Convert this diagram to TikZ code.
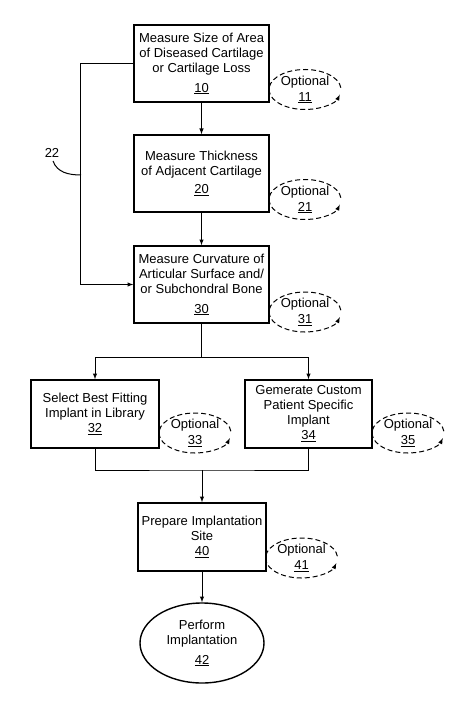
\documentclass[tikz,border=0pt]{standalone}
\usepackage{fontspec}
\setmainfont{Liberation Sans}
\usetikzlibrary{shapes.geometric}

\begin{document}
\begin{tikzpicture}[x=1pt, y=1pt, >=latex,
  every node/.style={font=\fontsize{13}{15}\selectfont, align=center},
  stepbox/.style={draw, rectangle, line width=1.4pt, inner sep=0pt},
  optnote/.style={inner sep=0pt},
  flow/.style={->, line width=1pt}]

\useasboundingbox (0,0) rectangle (474,-711);

% --- Measuring steps ---
\node (box10) [stepbox, minimum width=135, minimum height=77] at (201.5,-63.5) {Measure Size of Area\\of Diseased Cartilage\\or Cartilage Loss\\[5pt]\underline{10}};
\node (box20) [stepbox, minimum width=135, minimum height=77] at (201.5,-173.5) {Measure Thickness\\of Adjacent Cartilage\\[3pt]\underline{20}};
\node (box30) [stepbox, minimum width=135, minimum height=77] at (201.5,-284.5) {Measure Curvature of\\Articular Surface and/\\or Subchondral Bone\\[5pt]\underline{30}};

% --- Implant choice ---
\node (box32) [stepbox, minimum width=128, minimum height=68] at (95,-414) {Select Best Fitting\\Implant in Library\\\underline{32}};
\node (box34) [stepbox, minimum width=127, minimum height=68] at (308.5,-414) {Gemerate Custom\\Patient Specific\\Implant\\\underline{34}};

% --- Implantation ---
\node (box40) [stepbox, minimum width=128, minimum height=68] at (202,-537) {Prepare Implantation\\Site\\\underline{40}};
\node (end42) [draw, ellipse, line width=1.4pt, inner sep=0pt, minimum width=124, minimum height=80] at (202,-643) {Perform\\Implantation\\[5pt]\underline{42}};

% --- Optional loops ---
\node (opt11) [optnote] at (305,-89.5) {Optional\\[1pt]\underline{11}};
\node (opt21) [optnote] at (305,-199.5) {Optional\\[1pt]\underline{21}};
\node (opt31) [optnote] at (305,-312) {Optional\\[1pt]\underline{31}};
\node (opt33) [optnote] at (195,-433) {Optional\\[1pt]\underline{33}};
\node (opt35) [optnote] at (408,-433) {Optional\\[1pt]\underline{35}};
\node (opt41) [optnote] at (301.5,-558) {Optional\\[1pt]\underline{41}};
\foreach \n in {opt11,opt21,opt31,opt33,opt35,opt41}
  \draw[dash pattern=on 5pt off 3pt, line width=1pt, ->] ([shift={(5:36pt and 20pt)}]\n.center) arc[start angle=5, end angle=345, x radius=36pt, y radius=20pt];

% --- Connectors ---
\draw[flow] (box10) -- (box20);
\draw[flow] (box20) -- (box30);
\draw[flow] (box10.west) -- ++(-53,0) coordinate (loopcorner) |- (box30.west);

\draw[line width=1pt] (box30.south) -- ++(0,-34) coordinate (split);
\draw[flow] (split) -| (box32.north);
\draw[flow] (split) -| (box34.north);

\coordinate (join) at (202,-470);
\draw[line width=1pt] (box32.south) |- (join) -| (box34.south);
\draw[flow] (join) -- (box40.north);
\draw[flow] (box40) -- (end42);

% --- Reference 22 ---
\node (label22) at (52,-153) {22};
\coordinate (tap22) at (81,-175);
\draw[line width=1pt] (label22.south) ++(1,0) to[out=-70, in=180] (tap22);

\end{tikzpicture}
\end{document}
